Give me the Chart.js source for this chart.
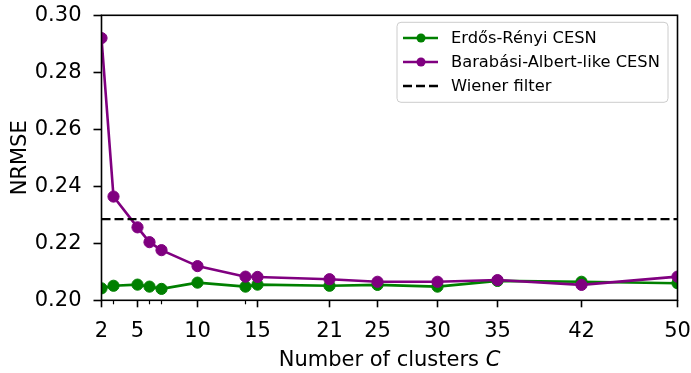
<!DOCTYPE html>
<html>
<head>
<meta charset="utf-8">
<script src="https://cdn.jsdelivr.net/npm/chart.js@4/dist/chart.umd.min.js"></script>
<style>
html,body{margin:0;padding:0;background:#fff;}
#wrap{width:691px;height:373px;}
</style>
</head>
<body>
<div id="wrap"><canvas id="c" width="691" height="373"></canvas></div>
<script>
// ---- data ----
const clusters = [2, 3, 5, 6, 7, 10, 14, 15, 21, 25, 30, 35, 42, 50];
const erdosRenyi = [0.2042, 0.2051, 0.2055, 0.2048, 0.2040, 0.2062, 0.2048, 0.2055, 0.2051, 0.2054, 0.2048, 0.2068, 0.2065, 0.2060];
const barabasiAlbert = [0.2920, 0.2364, 0.2256, 0.2204, 0.2176, 0.2120, 0.2083, 0.2082, 0.2074, 0.2065, 0.2065, 0.2071, 0.2054, 0.2083];
const wienerFilter = 0.2285;
const xMajorTicks = [2, 5, 10, 15, 21, 25, 30, 35, 42, 50];
const xMinorTicks = [3, 6, 7, 14];
const yTicks = [0.20, 0.22, 0.24, 0.26, 0.28, 0.30];
const seriesNames = ['Erdős-Rényi CESN', 'Barabási-Albert-like CESN', 'Wiener filter'];
const xTitle = 'Number of clusters ';
const xTitleItalic = 'C';
const yTitle = 'NRMSE';

const FONT = "'DejaVu Sans', 'Liberation Sans', sans-serif";
Chart.defaults.font.family = FONT;
Chart.defaults.color = '#000';

const framePlugin = {
  id: 'frame',
  afterDraw(chart) {
    const {ctx, chartArea: a, scales} = chart;
    ctx.save();
    ctx.strokeStyle = '#000';
    ctx.lineWidth = 1.6;
    ctx.strokeRect(a.left, a.top, a.right - a.left, a.bottom - a.top);
    ctx.lineWidth = 1.2;
    xMinorTicks.forEach(v => {
      const px = scales.x.getPixelForValue(v);
      ctx.beginPath();
      ctx.moveTo(px, a.bottom);
      ctx.lineTo(px, a.bottom + 4);
      ctx.stroke();
    });
    ctx.fillStyle = '#000';
    ctx.textBaseline = 'alphabetic';
    ctx.font = '21px ' + FONT;
    const w1 = ctx.measureText(xTitle).width;
    ctx.font = 'italic 21px ' + FONT;
    const w2 = ctx.measureText(xTitleItalic).width;
    const cx = (a.left + a.right) / 2;
    let x0 = cx - (w1 + w2) / 2;
    ctx.textAlign = 'left';
    ctx.font = '21px ' + FONT;
    ctx.fillText(xTitle, x0, 366);
    ctx.font = 'italic 21px ' + FONT;
    ctx.fillText(xTitleItalic, x0 + w1, 366);

    ctx.save();
    ctx.translate(25.5, (a.top + a.bottom) / 2);
    ctx.rotate(-Math.PI / 2);
    ctx.textAlign = 'center';
    ctx.font = '21px ' + FONT;
    ctx.fillText(yTitle, 0, 0);
    ctx.restore();

    const bw = 271, bh = 80;
    const bx = a.right - 9.5 - bw, by = a.top + 7;
    ctx.beginPath();
    ctx.roundRect(bx, by, bw, bh, 4);
    ctx.fillStyle = 'rgba(255,255,255,0.8)';
    ctx.fill();
    ctx.strokeStyle = '#cccccc';
    ctx.lineWidth = 1;
    ctx.stroke();
    chart.data.datasets.forEach((ds, i) => {
      const yy = by + 15.7 + i * 24;
      ctx.strokeStyle = ds.borderColor;
      ctx.lineWidth = ds.borderWidth;
      ctx.setLineDash(ds.borderDash || []);
      ctx.beginPath();
      ctx.moveTo(bx + 6, yy);
      ctx.lineTo(bx + 41, yy);
      ctx.stroke();
      ctx.setLineDash([]);
      if (ds.pointRadius > 0) {
        ctx.fillStyle = ds.borderColor;
        ctx.beginPath();
        ctx.arc(bx + 24, yy, 4.5, 0, Math.PI * 2);
        ctx.fill();
      }
      ctx.fillStyle = '#000';
      ctx.font = '16.3px ' + FONT;
      ctx.textAlign = 'left';
      ctx.textBaseline = 'middle';
      ctx.fillText(ds.label, bx + 54, yy + 1);
    });
    ctx.restore();
  }
};

const toPts = (xs, ys) => xs.map((x, i) => ({x: x, y: ys[i]}));

new Chart(document.getElementById('c'), {
  type: 'line',
  data: {
    datasets: [
      {
        label: seriesNames[0],
        data: toPts(clusters, erdosRenyi),
        borderColor: '#008000', backgroundColor: '#008000',
        pointBackgroundColor: '#008000', pointBorderColor: '#008000',
        borderWidth: 2.6, pointRadius: 5.6, pointBorderWidth: 1,
        order: 2, clip: 0, tension: 0
      },
      {
        label: seriesNames[1],
        data: toPts(clusters, barabasiAlbert),
        borderColor: '#800080', backgroundColor: '#800080',
        pointBackgroundColor: '#800080', pointBorderColor: '#800080',
        borderWidth: 2.6, pointRadius: 5.6, pointBorderWidth: 1,
        order: 1, clip: 0, tension: 0
      },
      {
        label: seriesNames[2],
        data: [{x: clusters[0], y: wienerFilter}, {x: clusters[clusters.length - 1], y: wienerFilter}],
        borderColor: '#000000', backgroundColor: '#000000',
        borderWidth: 2.4, borderDash: [9, 4], pointRadius: 0,
        order: 0, clip: 0
      }
    ]
  },
  options: {
    responsive: false,
    animation: false,
    events: [],
    layout: {autoPadding: false, padding: {left: 0, right: 13.5, top: 15.3, bottom: 0}},
    plugins: {legend: {display: false}, tooltip: {enabled: false}},
    scales: {
      x: {
        type: 'linear', min: 2, max: 50,
        afterBuildTicks: s => { s.ticks = xMajorTicks.map(v => ({value: v})); },
        afterFit: s => { s.height = 72.7; s.paddingLeft = 0; s.paddingRight = 0; s.paddingTop = 0; s.paddingBottom = 0; },
        ticks: {font: {size: 21}, color: '#000', padding: 12, maxRotation: 0, autoSkip: false,
                callback: v => String(v)},
        grid: {drawOnChartArea: false, drawTicks: true, tickLength: 7, tickWidth: 1.6, tickColor: '#000'},
        border: {display: false}
      },
      y: {
        type: 'linear', min: 0.20, max: 0.30,
        afterBuildTicks: s => { s.ticks = yTicks.map(v => ({value: v})); },
        afterFit: s => { s.width = 101.5; s.paddingLeft = 0; s.paddingRight = 0; s.paddingTop = 0; s.paddingBottom = 0; },
        ticks: {font: {size: 21}, color: '#000', padding: 12,
                callback: v => Number(v).toFixed(2)},
        grid: {drawOnChartArea: false, drawTicks: true, tickLength: 8, tickWidth: 1.6, tickColor: '#000'},
        border: {display: false}
      }
    }
  },
  plugins: [framePlugin]
});
</script>
</body>
</html>
